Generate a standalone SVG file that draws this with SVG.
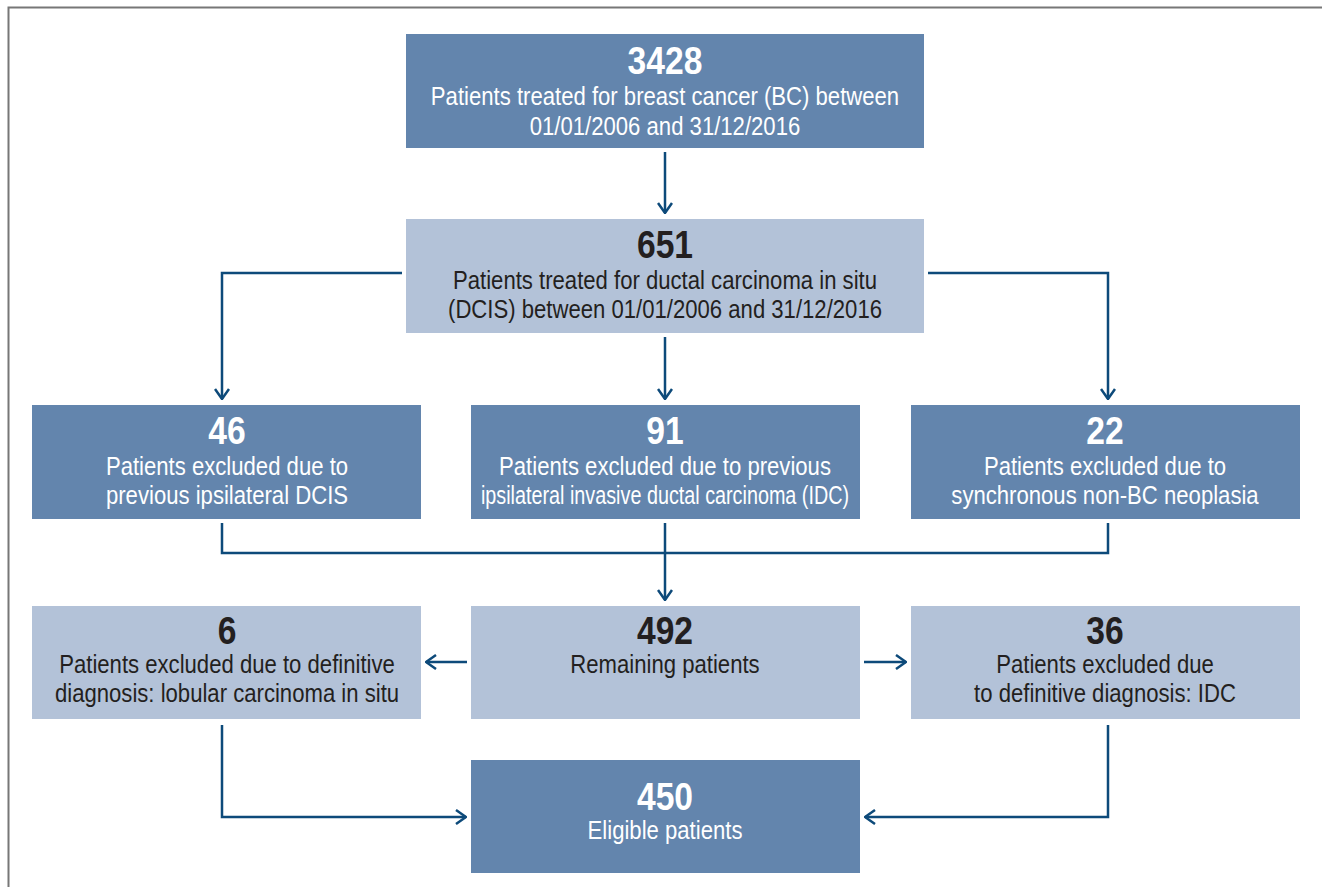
<svg xmlns="http://www.w3.org/2000/svg" width="1322" height="887" viewBox="0 0 1322 887">
<defs>
<style>
.dark{fill:#6385ad}
.light{fill:#b3c2d8}
.num{font-family:"Liberation Sans",Arial,sans-serif;font-weight:bold;font-size:38px;text-anchor:middle}
.txt{font-family:"Liberation Sans",Arial,sans-serif;font-size:25px;text-anchor:middle}
.w{fill:#ffffff}
.k{fill:#231f20}
.c{fill:none;stroke:#0d4a7a;stroke-width:2.5}
</style>
<marker id="ah" viewBox="0 0 12 16" refX="11" refY="8" markerWidth="12" markerHeight="16" markerUnits="userSpaceOnUse" orient="auto">
<path d="M1,1 L11,8 L1,15" fill="none" stroke="#0d4a7a" stroke-width="2.5"/>
</marker>
</defs>
<rect width="1322" height="887" fill="#ffffff"/>
<path d="M8.5,887 L8.5,7.5 L1322,7.5" fill="none" stroke="#777" stroke-width="2"/>
<g id="connectors">
<path class="c" d="M665,152 L665,213" marker-end="url(#ah)"/>
<path class="c" d="M402,273 L222,273 L222,399" marker-end="url(#ah)"/>
<path class="c" d="M928,273 L1108,273 L1108,399" marker-end="url(#ah)"/>
<path class="c" d="M665,337 L665,399" marker-end="url(#ah)"/>
<path class="c" d="M222,523 L222,553 L1108,553 L1108,523"/>
<path class="c" d="M665,523 L665,600" marker-end="url(#ah)"/>
<path class="c" d="M467,662 L426,662" marker-end="url(#ah)"/>
<path class="c" d="M864,662 L906,662" marker-end="url(#ah)"/>
<path class="c" d="M222,725 L222,817 L466,817" marker-end="url(#ah)"/>
<path class="c" d="M1108,725 L1108,817 L865,817" marker-end="url(#ah)"/>
</g>
<g id="n3428">
<rect class="dark" x="406" y="34" width="518" height="114"/>
<g transform="matrix(0.885 0 0 1 665 0)">
<text class="num w" x="0" y="74">3428</text>
<text class="txt w" x="0" y="105">Patients treated for breast cancer (BC) between</text>
<text class="txt w" x="0" y="135">01/01/2006 and 31/12/2016</text>
</g>
</g>
<g id="n651">
<rect class="light" x="406" y="219" width="518" height="114"/>
<g transform="matrix(0.885 0 0 1 665 0)">
<text class="num k" x="0" y="258">651</text>
<text class="txt k" x="0" y="289">Patients treated for ductal carcinoma in situ</text>
<text class="txt k" x="0" y="318">(DCIS) between 01/01/2006 and 31/12/2016</text>
</g>
</g>
<g id="n46">
<rect class="dark" x="32" y="405" width="389" height="114"/>
<g transform="matrix(0.885 0 0 1 227 0)">
<text class="num w" x="0" y="444">46</text>
<text class="txt w" x="0" y="475">Patients excluded due to</text>
<text class="txt w" x="0" y="504">previous ipsilateral DCIS</text>
</g>
</g>
<g id="n91">
<rect class="dark" x="471" y="405" width="389" height="114"/>
<g transform="matrix(0.885 0 0 1 665 0)">
<text class="num w" x="0" y="444">91</text>
<text class="txt w" x="0" y="475">Patients excluded due to previous</text>
<text class="txt w" x="0" y="504" textLength="416" lengthAdjust="spacingAndGlyphs">ipsilateral invasive ductal carcinoma (IDC)</text>
</g>
</g>
<g id="n22">
<rect class="dark" x="911" y="405" width="389" height="114"/>
<g transform="matrix(0.885 0 0 1 1105 0)">
<text class="num w" x="0" y="444">22</text>
<text class="txt w" x="0" y="475">Patients excluded due to</text>
<text class="txt w" x="0" y="504">synchronous non-BC neoplasia</text>
</g>
</g>
<g id="n6">
<rect class="light" x="32" y="606" width="389" height="113"/>
<g transform="matrix(0.885 0 0 1 227 0)">
<text class="num k" x="0" y="644">6</text>
<text class="txt k" x="0" y="673">Patients excluded due to definitive</text>
<text class="txt k" x="0" y="702">diagnosis: lobular carcinoma in situ</text>
</g>
</g>
<g id="n492">
<rect class="light" x="471" y="606" width="389" height="113"/>
<g transform="matrix(0.885 0 0 1 665 0)">
<text class="num k" x="0" y="644">492</text>
<text class="txt k" x="0" y="673">Remaining patients</text>
</g>
</g>
<g id="n36">
<rect class="light" x="911" y="606" width="389" height="113"/>
<g transform="matrix(0.885 0 0 1 1105 0)">
<text class="num k" x="0" y="644">36</text>
<text class="txt k" x="0" y="673">Patients excluded due</text>
<text class="txt k" x="0" y="702">to definitive diagnosis: IDC</text>
</g>
</g>
<g id="n450">
<rect class="dark" x="471" y="760" width="389" height="113"/>
<g transform="matrix(0.885 0 0 1 665 0)">
<text class="num w" x="0" y="810">450</text>
<text class="txt w" x="0" y="839">Eligible patients</text>
</g>
</g>
</svg>
